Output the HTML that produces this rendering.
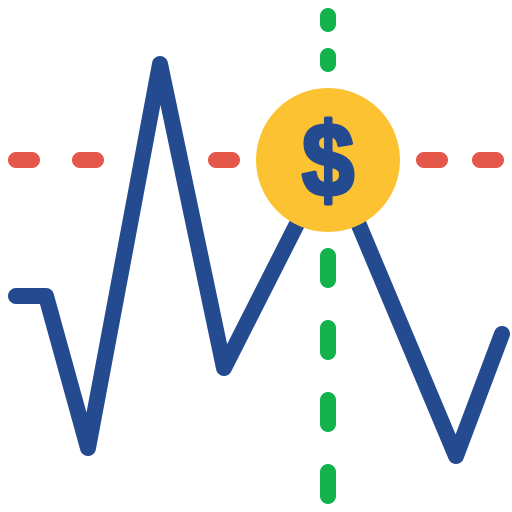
<!DOCTYPE html>
<html>
<head>
<meta charset="utf-8">
<style>
html,body{margin:0;padding:0;background:#fff;}
svg{display:block;}
</style>
</head>
<body>
<svg id="chart" width="512" height="512" viewBox="0 0 512 512" xmlns="http://www.w3.org/2000/svg">
  <g stroke="#e5574a" stroke-width="16" stroke-linecap="round">
    <line x1="16" y1="160" x2="32" y2="160"/>
    <line x1="80" y1="160" x2="96" y2="160"/>
    <line x1="216" y1="160" x2="232" y2="160"/>
    <line x1="424" y1="160" x2="440" y2="160"/>
    <line x1="480" y1="160" x2="496" y2="160"/>
  </g>
  <g stroke="#13b24a" stroke-width="16" stroke-linecap="round">
    <line x1="328" y1="16" x2="328" y2="24"/>
    <line x1="328" y1="56" x2="328" y2="64"/>
    <line x1="328" y1="256" x2="328" y2="280"/>
    <line x1="328" y1="328" x2="328" y2="352"/>
    <line x1="328" y1="400" x2="328" y2="424"/>
    <line x1="328" y1="472" x2="328" y2="496"/>
  </g>
  <polyline id="price-line" fill="none" stroke="#244a90" stroke-width="16" stroke-linejoin="round" stroke-linecap="round" points=""/>
  <circle cx="328" cy="160" r="72" fill="#fdc232"/>
  <text transform="translate(328,196) scale(0.9,1)" x="0" y="0" text-anchor="middle" font-family="Liberation Sans, sans-serif" font-weight="bold" font-size="104" fill="#244a90" stroke="#244a90" stroke-width="4" stroke-linejoin="round">$</text>
</svg>
<script>
const xs = [16, 46, 88, 160, 224, 300, 356, 456, 502];
const ys = [296, 296, 448, 64, 368, 218, 218, 456, 334];
const line = document.getElementById('price-line');
line.setAttribute('points', xs.map((x, i) => x + ',' + ys[i]).join(' '));
</script>
</body>
</html>
